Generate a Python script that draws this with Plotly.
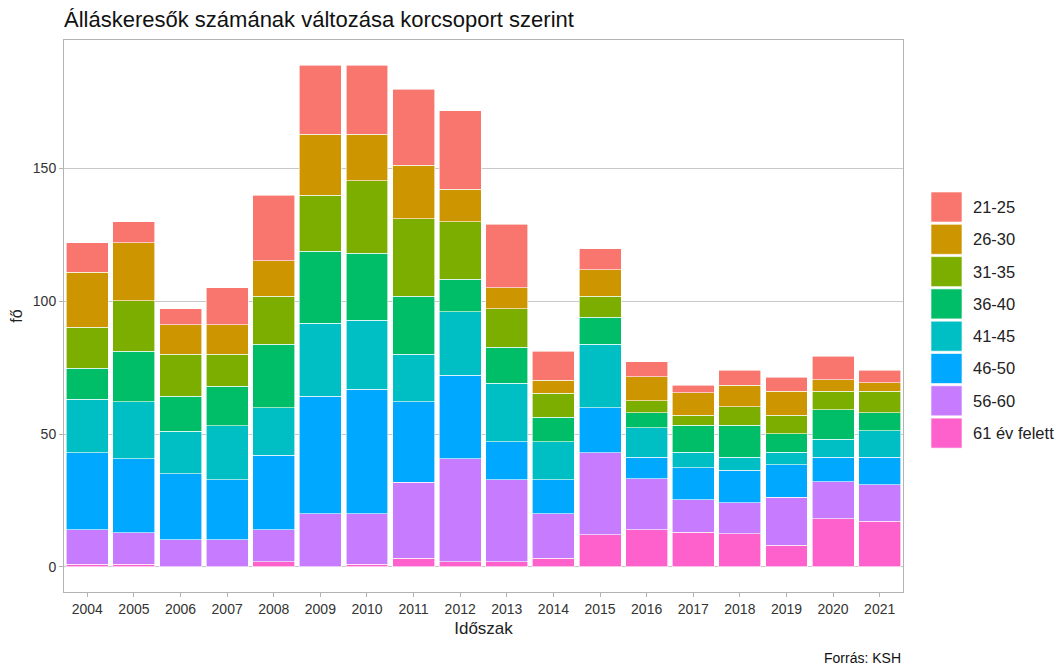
import plotly.graph_objects as go

years = [str(y) for y in range(2004, 2022)]
age_groups = ["61 év felett", "56-60", "46-50", "41-45", "36-40", "31-35", "26-30", "21-25"]
colors = ["#FF61CC", "#C77CFF", "#00A9FF", "#00BFC4", "#00BE67", "#7CAE00", "#CD9600", "#F8766D"]

v_61plus = [1.0, 1.0, 0.0, 0.0, 2.0, 0.0, 1.0, 3.2, 2.0, 2.0, 3.2, 12.2, 14.0, 13.0, 12.5, 8.1, 18.1, 17.1]
v_56_60 = [12.9, 11.8, 10.2, 10.2, 11.9, 20.1, 19.1, 28.7, 38.8, 30.8, 16.9, 30.8, 19.1, 12.2, 11.6, 18.1, 14.0, 13.9]
v_46_50 = [29.1, 28.0, 24.9, 22.6, 28.2, 44.1, 46.7, 30.2, 31.3, 14.4, 12.7, 17.0, 8.2, 12.2, 12.2, 12.2, 9.1, 10.2]
v_41_45 = [20.1, 21.3, 15.9, 20.4, 17.9, 27.6, 26.1, 18.0, 23.9, 21.9, 14.4, 23.8, 11.1, 5.8, 4.9, 4.8, 6.9, 10.1]
v_36_40 = [11.6, 19.1, 13.2, 14.9, 23.8, 27.0, 25.1, 21.8, 12.2, 13.6, 9.2, 10.2, 5.7, 10.2, 12.2, 6.9, 11.1, 6.8]
v_31_35 = [15.5, 19.0, 15.9, 12.0, 18.1, 21.2, 27.3, 29.1, 21.8, 14.5, 8.9, 7.9, 4.4, 3.7, 6.8, 7.0, 6.9, 8.0]
v_26_30 = [20.7, 21.9, 11.1, 11.1, 13.3, 22.8, 17.5, 20.2, 12.2, 7.9, 4.9, 10.0, 9.0, 8.4, 8.1, 9.0, 4.3, 3.2]
v_21_25 = [11.1, 7.8, 5.9, 13.9, 24.8, 26.1, 26.1, 28.7, 29.6, 23.8, 11.0, 7.9, 5.8, 2.8, 5.8, 5.3, 8.9, 4.8]

series = [v_61plus, v_56_60, v_46_50, v_41_45, v_36_40, v_31_35, v_26_30, v_21_25]

title_text = "Álláskeresők számának változása korcsoport szerint"
x_title = "Időszak"
y_title = "fő"
caption = "Forrás: KSH"
y_ticks = [0, 50, 100, 150]

FONT = "Liberation Sans, Arial, sans-serif"

W, H = 1055, 659
ML, MR, MT, MB = 56, 160, 32, 75
PW, PH = W - ML - MR, H - MT - MB


def px_to_paper_x(px):
    return (px - ML) / PW


def px_to_paper_y(py):
    return (H - MB - py) / PH


fig = go.Figure()
for name, vals, col in zip(age_groups, series, colors):
    fig.add_trace(go.Bar(
        x=years, y=vals, name=name,
        marker=dict(color=col, line=dict(color="white", width=0.6)),
        showlegend=False,
    ))

totals = [sum(v[i] for v in series) for i in range(len(years))]
ymax = max(totals)
pad = ymax * 0.05

fig.update_layout(
    barmode="stack",
    bargap=0.1,
    width=W, height=H,
    margin=dict(l=ML, r=MR, t=MT, b=MB, autoexpand=False),
    paper_bgcolor="white",
    plot_bgcolor="white",
    font=dict(family=FONT, color="#222222"),
    title=dict(text=title_text, x=56 / W, xref="container", xanchor="left",
               y=1 - 11 / H, yanchor="middle", yref="container",
               font=dict(size=22, color="#111111", family=FONT)),
)

fig.update_xaxes(
    type="category",
    showgrid=False,
    automargin=False,
    ticks="outside", ticklen=4, tickcolor="#B3B3B3",
    tickfont=dict(size=14, color="#333333"),
    title=dict(text=x_title, font=dict(size=17, color="#222222"), standoff=6),
    showline=True, linecolor="#B3B3B3", linewidth=1, mirror=True,
)
fig.update_yaxes(
    range=[-pad, ymax + pad],
    tickvals=y_ticks,
    automargin=False,
    showgrid=True, gridcolor="#C8C8C8", gridwidth=1,
    zeroline=False,
    ticks="outside", ticklen=4, tickcolor="#B3B3B3",
    tickfont=dict(size=14, color="#333333"),
    title=dict(text=y_title, font=dict(size=16, color="#222222"), standoff=6),
    showline=True, linecolor="#B3B3B3", linewidth=1, mirror=True,
)

# custom legend (top item first: 21-25)
pitch = 32.3
sq_h = 30
first_top = 184
for i, (name, col) in enumerate(zip(age_groups[::-1], colors[::-1])):
    top = first_top + i * pitch
    bot = top + sq_h
    fig.add_shape(type="rect", xref="paper", yref="paper",
                  x0=px_to_paper_x(923), x1=px_to_paper_x(954),
                  y0=px_to_paper_y(bot), y1=px_to_paper_y(top),
                  fillcolor=col, line=dict(color="white", width=0.6))
    fig.add_annotation(xref="paper", yref="paper",
                       x=px_to_paper_x(963), y=px_to_paper_y((top + bot) / 2),
                       text=name, showarrow=False, xanchor="left", yanchor="middle",
                       font=dict(size=16.5, color="#222222", family=FONT))

fig.add_annotation(xref="paper", yref="paper",
                   x=px_to_paper_x(895), y=px_to_paper_y(650),
                   text=caption, showarrow=False, xanchor="right", yanchor="middle",
                   font=dict(size=14, color="#111111", family=FONT))

fig.write_html("out.html")
